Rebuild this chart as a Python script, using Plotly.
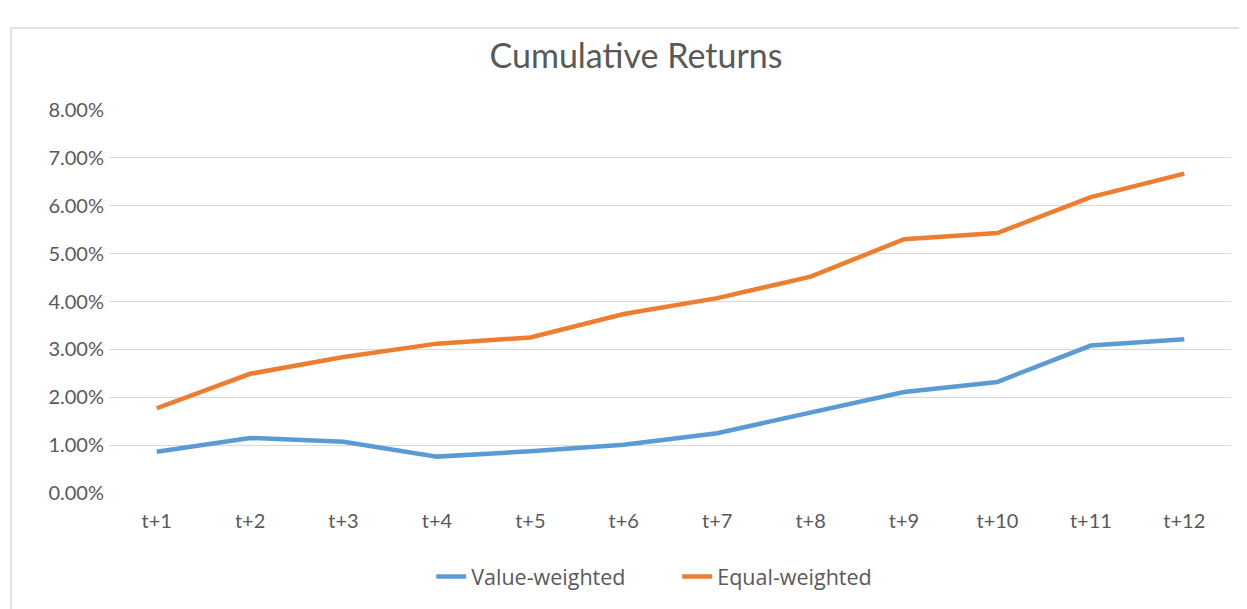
import plotly.graph_objects as go

categories = ["t+1", "t+2", "t+3", "t+4", "t+5", "t+6", "t+7", "t+8", "t+9", "t+10", "t+11", "t+12"]
value_weighted = [0.86, 1.15, 1.07, 0.76, 0.87, 1.01, 1.25, 1.67, 2.11, 2.32, 3.08, 3.21]
equal_weighted = [1.77, 2.49, 2.84, 3.12, 3.25, 3.74, 4.07, 4.52, 5.30, 5.43, 6.18, 6.67]
y_ticks = [0, 1, 2, 3, 4, 5, 6, 7, 8]
y_tick_labels = [f"{v:.2f}%" for v in y_ticks]

FONT = "Lato"
GRAY = "#595959"

# page body has an 8px margin; plot area target on page: x 110..1231, y 110..493.3
L, T = 102, 102
PW, PH = 1121, 383.3

fig = go.Figure()
fig.add_trace(go.Scatter(x=categories, y=value_weighted, mode="lines", name="Value-weighted",
                         line=dict(color="#5B9BD5", width=4.5)))
fig.add_trace(go.Scatter(x=categories, y=equal_weighted, mode="lines", name="Equal-weighted",
                         line=dict(color="#ED7D31", width=4.5)))

fig.update_layout(
    width=1247, height=609,
    margin=dict(l=L, r=1247 - L - PW, t=T, b=609 - T - PH),
    paper_bgcolor="white", plot_bgcolor="white",
    title=dict(text="Cumulative Returns", x=(636 - 8) / 1247, xanchor="center", y=1 - 48 / 609,
               yanchor="middle", font=dict(family=FONT, size=34, color=GRAY)),
    font=dict(family=FONT, size=20, color=GRAY),
    showlegend=True,
    legend=dict(orientation="h", x=0.506, xanchor="center", y=-0.218, yanchor="middle",
                entrywidth=201, entrywidthmode="pixels",
                font=dict(family="Open Sans", size=21.5, color=GRAY), bgcolor="rgba(0,0,0,0)"),
    xaxis=dict(type="category", range=[-0.5, 11.5], showgrid=False, showline=False, zeroline=False,
               ticks="", ticklabelstandoff=14, tickfont=dict(family=FONT, size=20, color=GRAY)),
    yaxis=dict(range=[0, 8], tickvals=y_ticks, ticktext=y_tick_labels,
               showgrid=True, gridcolor="#D9D9D9", gridwidth=1, zeroline=False, showline=False,
               ticks="", ticklabelstandoff=5, tickfont=dict(family=FONT, size=20, color=GRAY)),
    shapes=[dict(type="rect", xref="paper", yref="paper",
                 x0=(11 - 110) / PW, x1=1.2, y0=-0.5, y1=(493.3 - 28) / PH,
                 line=dict(color="#D9D9D9", width=1.5), fillcolor="rgba(0,0,0,0)", layer="below")],
)

fig.write_html("out.html")
